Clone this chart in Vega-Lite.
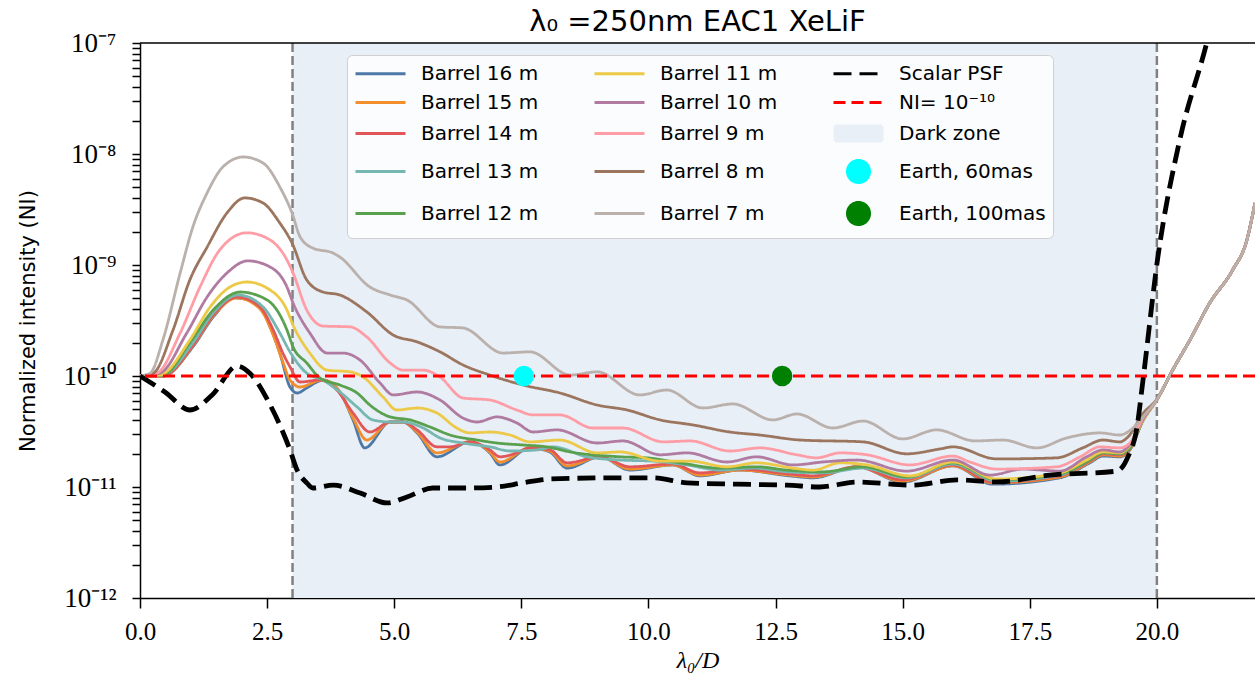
{
  "$schema": "https://vega.github.io/schema/vega-lite/v6.json",
  "width": 1115,
  "height": 555,
  "autosize": {"type": "none"},
  "padding": {"left": 140, "top": 43, "right": 0, "bottom": 81},
  "background": "white",
  "title": {"text": "λ₀ =250nm EAC1 XeLiF", "font": "DejaVu Sans", "fontSize": 29, "fontWeight": "normal", "color": "black", "offset": -8, "anchor": "middle"},
  "config": {
    "view": {"stroke": null},
    "axis": {"domainColor": "black", "domainWidth": 1.5, "tickColor": "black", "tickWidth": 1.5, "labelColor": "black", "titleColor": "black", "grid": false, "labelFont": "Liberation Serif", "labelOverlap": false, "labelFlush": false, "labelBound": false}
  },
  "datasets": {
    "curves": [
      {"s":"Barrel 16 m","x":0,"v":1e-10},{"s":"Barrel 16 m","x":0.45,"v":1.0e-10},{"s":"Barrel 16 m","x":1.04,"v":1.83e-10},{"s":"Barrel 16 m","x":1.44,"v":3.40e-10},{"s":"Barrel 16 m","x":1.87,"v":5.05e-10},{"s":"Barrel 16 m","x":2.30,"v":4.55e-10},{"s":"Barrel 16 m","x":2.56,"v":2.77e-10},{"s":"Barrel 16 m","x":2.75,"v":1.61e-10},{"s":"Barrel 16 m","x":2.95,"v":7.96e-11},{"s":"Barrel 16 m","x":3.09,"v":7.03e-11},{"s":"Barrel 16 m","x":3.28,"v":7.80e-11},{"s":"Barrel 16 m","x":3.48,"v":8.83e-11},{"s":"Barrel 16 m","x":3.60,"v":9.20e-11},{"s":"Barrel 16 m","x":3.93,"v":7.18e-11},{"s":"Barrel 16 m","x":4.19,"v":4.02e-11},{"s":"Barrel 16 m","x":4.42,"v":2.25e-11},{"s":"Barrel 16 m","x":4.92,"v":3.85e-11},{"s":"Barrel 16 m","x":5.17,"v":3.85e-11},{"s":"Barrel 16 m","x":5.45,"v":3.07e-11},{"s":"Barrel 16 m","x":5.84,"v":1.87e-11},{"s":"Barrel 16 m","x":6.49,"v":2.55e-11},{"s":"Barrel 16 m","x":6.88,"v":2.03e-11},{"s":"Barrel 16 m","x":7.08,"v":1.58e-11},{"s":"Barrel 16 m","x":7.67,"v":2.25e-11},{"s":"Barrel 16 m","x":8.06,"v":2.07e-11},{"s":"Barrel 16 m","x":8.40,"v":1.48e-11},{"s":"Barrel 16 m","x":9.05,"v":1.87e-11},{"s":"Barrel 16 m","x":9.64,"v":1.42e-11},{"s":"Barrel 16 m","x":10.48,"v":1.58e-11},{"s":"Barrel 16 m","x":11.01,"v":1.26e-11},{"s":"Barrel 16 m","x":11.80,"v":1.42e-11},{"s":"Barrel 16 m","x":12.78,"v":1.26e-11},{"s":"Barrel 16 m","x":13.24,"v":1.21e-11},{"s":"Barrel 16 m","x":14.10,"v":1.52e-11},{"s":"Barrel 16 m","x":15.00,"v":1.11e-11},{"s":"Barrel 16 m","x":15.99,"v":1.55e-11},{"s":"Barrel 16 m","x":16.77,"v":1.06e-11},{"s":"Barrel 16 m","x":18.09,"v":1.21e-11},{"s":"Barrel 16 m","x":18.68,"v":1.65e-11},{"s":"Barrel 16 m","x":18.94,"v":1.90e-11},{"s":"Barrel 16 m","x":19.27,"v":1.87e-11},{"s":"Barrel 16 m","x":19.47,"v":2.16e-11},{"s":"Barrel 16 m","x":19.72,"v":3.93e-11},{"s":"Barrel 16 m","x":20.02,"v":6.34e-11},{"s":"Barrel 16 m","x":20.31,"v":1.13e-10},{"s":"Barrel 16 m","x":20.65,"v":2.11e-10},{"s":"Barrel 16 m","x":21.04,"v":4.55e-10},{"s":"Barrel 16 m","x":21.49,"v":9.01e-10},{"s":"Barrel 16 m","x":21.77,"v":1.68e-9},{"s":"Barrel 16 m","x":21.93,"v":3.62e-9},

      {"s":"Barrel 15 m","x":0,"v":1e-10},{"s":"Barrel 15 m","x":0.45,"v":1.0e-10},{"s":"Barrel 15 m","x":1.04,"v":1.87e-10},{"s":"Barrel 15 m","x":1.44,"v":3.48e-10},{"s":"Barrel 15 m","x":1.91,"v":5.05e-10},{"s":"Barrel 15 m","x":2.36,"v":4.02e-10},{"s":"Barrel 15 m","x":2.62,"v":2.34e-10},{"s":"Barrel 15 m","x":2.81,"v":1.34e-10},{"s":"Barrel 15 m","x":2.95,"v":9.20e-11},{"s":"Barrel 15 m","x":3.15,"v":7.96e-11},{"s":"Barrel 15 m","x":3.48,"v":9.01e-11},{"s":"Barrel 15 m","x":3.60,"v":9.20e-11},{"s":"Barrel 15 m","x":3.93,"v":7.18e-11},{"s":"Barrel 15 m","x":4.19,"v":4.19e-11},{"s":"Barrel 15 m","x":4.46,"v":2.65e-11},{"s":"Barrel 15 m","x":4.92,"v":3.85e-11},{"s":"Barrel 15 m","x":5.17,"v":3.85e-11},{"s":"Barrel 15 m","x":5.45,"v":3.13e-11},{"s":"Barrel 15 m","x":5.84,"v":2.03e-11},{"s":"Barrel 15 m","x":6.49,"v":2.55e-11},{"s":"Barrel 15 m","x":6.88,"v":2.07e-11},{"s":"Barrel 15 m","x":7.08,"v":1.68e-11},{"s":"Barrel 15 m","x":7.67,"v":2.25e-11},{"s":"Barrel 15 m","x":8.06,"v":2.11e-11},{"s":"Barrel 15 m","x":8.40,"v":1.55e-11},{"s":"Barrel 15 m","x":9.05,"v":1.87e-11},{"s":"Barrel 15 m","x":9.64,"v":1.45e-11},{"s":"Barrel 15 m","x":10.48,"v":1.58e-11},{"s":"Barrel 15 m","x":11.01,"v":1.28e-11},{"s":"Barrel 15 m","x":11.80,"v":1.42e-11},{"s":"Barrel 15 m","x":12.78,"v":1.28e-11},{"s":"Barrel 15 m","x":13.24,"v":1.23e-11},{"s":"Barrel 15 m","x":14.10,"v":1.52e-11},{"s":"Barrel 15 m","x":15.00,"v":1.13e-11},{"s":"Barrel 15 m","x":15.99,"v":1.55e-11},{"s":"Barrel 15 m","x":16.77,"v":1.09e-11},{"s":"Barrel 15 m","x":18.09,"v":1.23e-11},{"s":"Barrel 15 m","x":18.68,"v":1.68e-11},{"s":"Barrel 15 m","x":18.94,"v":1.95e-11},{"s":"Barrel 15 m","x":19.27,"v":1.90e-11},{"s":"Barrel 15 m","x":19.47,"v":2.20e-11},{"s":"Barrel 15 m","x":19.72,"v":3.93e-11},{"s":"Barrel 15 m","x":20.02,"v":6.34e-11},{"s":"Barrel 15 m","x":20.31,"v":1.13e-10},{"s":"Barrel 15 m","x":20.65,"v":2.11e-10},{"s":"Barrel 15 m","x":21.04,"v":4.55e-10},{"s":"Barrel 15 m","x":21.49,"v":9.01e-10},{"s":"Barrel 15 m","x":21.77,"v":1.68e-9},{"s":"Barrel 15 m","x":21.93,"v":3.62e-9},

      {"s":"Barrel 14 m","x":0,"v":1e-10},{"s":"Barrel 14 m","x":0.45,"v":1.0e-10},{"s":"Barrel 14 m","x":1.04,"v":1.90e-10},{"s":"Barrel 14 m","x":1.44,"v":3.55e-10},{"s":"Barrel 14 m","x":1.91,"v":5.15e-10},{"s":"Barrel 14 m","x":2.36,"v":4.19e-10},{"s":"Barrel 14 m","x":2.62,"v":2.60e-10},{"s":"Barrel 14 m","x":2.81,"v":1.61e-10},{"s":"Barrel 14 m","x":2.95,"v":1.21e-10},{"s":"Barrel 14 m","x":3.15,"v":8.83e-11},{"s":"Barrel 14 m","x":3.54,"v":9.20e-11},{"s":"Barrel 14 m","x":3.87,"v":7.48e-11},{"s":"Barrel 14 m","x":4.19,"v":4.64e-11},{"s":"Barrel 14 m","x":4.52,"v":3.13e-11},{"s":"Barrel 14 m","x":4.92,"v":3.85e-11},{"s":"Barrel 14 m","x":5.17,"v":3.85e-11},{"s":"Barrel 14 m","x":5.45,"v":3.27e-11},{"s":"Barrel 14 m","x":5.84,"v":2.30e-11},{"s":"Barrel 14 m","x":6.10,"v":2.30e-11},{"s":"Barrel 14 m","x":6.49,"v":2.55e-11},{"s":"Barrel 14 m","x":6.88,"v":2.16e-11},{"s":"Barrel 14 m","x":7.08,"v":1.87e-11},{"s":"Barrel 14 m","x":7.41,"v":2.03e-11},{"s":"Barrel 14 m","x":7.67,"v":2.25e-11},{"s":"Barrel 14 m","x":8.06,"v":2.16e-11},{"s":"Barrel 14 m","x":8.40,"v":1.65e-11},{"s":"Barrel 14 m","x":9.05,"v":1.87e-11},{"s":"Barrel 14 m","x":9.64,"v":1.52e-11},{"s":"Barrel 14 m","x":10.48,"v":1.61e-11},{"s":"Barrel 14 m","x":11.01,"v":1.34e-11},{"s":"Barrel 14 m","x":11.80,"v":1.45e-11},{"s":"Barrel 14 m","x":12.78,"v":1.31e-11},{"s":"Barrel 14 m","x":13.24,"v":1.26e-11},{"s":"Barrel 14 m","x":14.10,"v":1.52e-11},{"s":"Barrel 14 m","x":15.00,"v":1.16e-11},{"s":"Barrel 14 m","x":15.99,"v":1.58e-11},{"s":"Barrel 14 m","x":16.77,"v":1.11e-11},{"s":"Barrel 14 m","x":18.09,"v":1.26e-11},{"s":"Barrel 14 m","x":18.68,"v":1.71e-11},{"s":"Barrel 14 m","x":18.94,"v":1.99e-11},{"s":"Barrel 14 m","x":19.27,"v":1.95e-11},{"s":"Barrel 14 m","x":19.47,"v":2.20e-11},{"s":"Barrel 14 m","x":19.72,"v":3.93e-11},{"s":"Barrel 14 m","x":20.02,"v":6.34e-11},{"s":"Barrel 14 m","x":20.31,"v":1.13e-10},{"s":"Barrel 14 m","x":20.65,"v":2.11e-10},{"s":"Barrel 14 m","x":21.04,"v":4.55e-10},{"s":"Barrel 14 m","x":21.49,"v":9.01e-10},{"s":"Barrel 14 m","x":21.77,"v":1.68e-9},{"s":"Barrel 14 m","x":21.93,"v":3.62e-9},

      {"s":"Barrel 13 m","x":0,"v":1e-10},{"s":"Barrel 13 m","x":0.45,"v":1.02e-10},{"s":"Barrel 13 m","x":1.04,"v":1.99e-10},{"s":"Barrel 13 m","x":1.44,"v":3.70e-10},{"s":"Barrel 13 m","x":1.93,"v":5.37e-10},{"s":"Barrel 13 m","x":2.42,"v":4.19e-10},{"s":"Barrel 13 m","x":2.75,"v":2.44e-10},{"s":"Barrel 13 m","x":2.95,"v":1.65e-10},{"s":"Barrel 13 m","x":3.28,"v":1.06e-10},{"s":"Barrel 13 m","x":3.60,"v":9.20e-11},{"s":"Barrel 13 m","x":3.93,"v":7.18e-11},{"s":"Barrel 13 m","x":4.27,"v":5.26e-11},{"s":"Barrel 13 m","x":4.58,"v":4.02e-11},{"s":"Barrel 13 m","x":4.92,"v":3.85e-11},{"s":"Barrel 13 m","x":5.17,"v":3.85e-11},{"s":"Barrel 13 m","x":5.57,"v":3.40e-11},{"s":"Barrel 13 m","x":5.90,"v":2.77e-11},{"s":"Barrel 13 m","x":6.35,"v":2.49e-11},{"s":"Barrel 13 m","x":6.88,"v":2.30e-11},{"s":"Barrel 13 m","x":7.28,"v":2.11e-11},{"s":"Barrel 13 m","x":7.81,"v":2.16e-11},{"s":"Barrel 13 m","x":8.12,"v":2.30e-11},{"s":"Barrel 13 m","x":8.79,"v":1.87e-11},{"s":"Barrel 13 m","x":9.44,"v":1.75e-11},{"s":"Barrel 13 m","x":10.09,"v":1.71e-11},{"s":"Barrel 13 m","x":10.76,"v":1.58e-11},{"s":"Barrel 13 m","x":11.41,"v":1.42e-11},{"s":"Barrel 13 m","x":12.06,"v":1.48e-11},{"s":"Barrel 13 m","x":12.72,"v":1.37e-11},{"s":"Barrel 13 m","x":13.43,"v":1.34e-11},{"s":"Barrel 13 m","x":14.22,"v":1.48e-11},{"s":"Barrel 13 m","x":15.08,"v":1.21e-11},{"s":"Barrel 13 m","x":15.99,"v":1.61e-11},{"s":"Barrel 13 m","x":16.85,"v":1.13e-11},{"s":"Barrel 13 m","x":18.09,"v":1.28e-11},{"s":"Barrel 13 m","x":18.68,"v":1.75e-11},{"s":"Barrel 13 m","x":18.94,"v":2.03e-11},{"s":"Barrel 13 m","x":19.27,"v":1.99e-11},{"s":"Barrel 13 m","x":19.47,"v":2.25e-11},{"s":"Barrel 13 m","x":19.72,"v":3.93e-11},{"s":"Barrel 13 m","x":20.02,"v":6.34e-11},{"s":"Barrel 13 m","x":20.31,"v":1.13e-10},{"s":"Barrel 13 m","x":20.65,"v":2.11e-10},{"s":"Barrel 13 m","x":21.04,"v":4.55e-10},{"s":"Barrel 13 m","x":21.49,"v":9.01e-10},{"s":"Barrel 13 m","x":21.77,"v":1.68e-9},{"s":"Barrel 13 m","x":21.93,"v":3.62e-9},

      {"s":"Barrel 12 m","x":0,"v":1e-10},{"s":"Barrel 12 m","x":0.45,"v":1.02e-10},{"s":"Barrel 12 m","x":0.98,"v":1.99e-10},{"s":"Barrel 12 m","x":1.44,"v":3.93e-10},{"s":"Barrel 12 m","x":1.97,"v":5.71e-10},{"s":"Barrel 12 m","x":2.50,"v":4.84e-10},{"s":"Barrel 12 m","x":2.89,"v":2.60e-10},{"s":"Barrel 12 m","x":3.01,"v":1.83e-10},{"s":"Barrel 12 m","x":3.28,"v":1.31e-10},{"s":"Barrel 12 m","x":3.54,"v":9.59e-11},{"s":"Barrel 12 m","x":3.93,"v":8.30e-11},{"s":"Barrel 12 m","x":4.27,"v":7.03e-11},{"s":"Barrel 12 m","x":4.52,"v":5.48e-11},{"s":"Barrel 12 m","x":4.92,"v":4.28e-11},{"s":"Barrel 12 m","x":5.31,"v":4.02e-11},{"s":"Barrel 12 m","x":5.70,"v":3.48e-11},{"s":"Barrel 12 m","x":6.10,"v":2.94e-11},{"s":"Barrel 12 m","x":6.63,"v":2.65e-11},{"s":"Barrel 12 m","x":7.02,"v":2.49e-11},{"s":"Barrel 12 m","x":7.53,"v":2.39e-11},{"s":"Barrel 12 m","x":8.00,"v":2.30e-11},{"s":"Barrel 12 m","x":8.46,"v":2.07e-11},{"s":"Barrel 12 m","x":9.44,"v":1.87e-11},{"s":"Barrel 12 m","x":9.97,"v":1.83e-11},{"s":"Barrel 12 m","x":10.62,"v":1.65e-11},{"s":"Barrel 12 m","x":11.41,"v":1.48e-11},{"s":"Barrel 12 m","x":12.13,"v":1.52e-11},{"s":"Barrel 12 m","x":12.72,"v":1.42e-11},{"s":"Barrel 12 m","x":13.43,"v":1.37e-11},{"s":"Barrel 12 m","x":14.22,"v":1.52e-11},{"s":"Barrel 12 m","x":15.08,"v":1.23e-11},{"s":"Barrel 12 m","x":15.99,"v":1.65e-11},{"s":"Barrel 12 m","x":16.85,"v":1.16e-11},{"s":"Barrel 12 m","x":18.09,"v":1.31e-11},{"s":"Barrel 12 m","x":18.68,"v":1.75e-11},{"s":"Barrel 12 m","x":18.94,"v":2.03e-11},{"s":"Barrel 12 m","x":19.27,"v":1.99e-11},{"s":"Barrel 12 m","x":19.47,"v":2.25e-11},{"s":"Barrel 12 m","x":19.72,"v":3.93e-11},{"s":"Barrel 12 m","x":20.02,"v":6.34e-11},{"s":"Barrel 12 m","x":20.31,"v":1.13e-10},{"s":"Barrel 12 m","x":20.65,"v":2.11e-10},{"s":"Barrel 12 m","x":21.04,"v":4.55e-10},{"s":"Barrel 12 m","x":21.49,"v":9.01e-10},{"s":"Barrel 12 m","x":21.77,"v":1.68e-9},{"s":"Barrel 12 m","x":21.93,"v":3.62e-9},

      {"s":"Barrel 11 m","x":0,"v":1e-10},{"s":"Barrel 11 m","x":0.39,"v":1.02e-10},{"s":"Barrel 11 m","x":0.98,"v":2.11e-10},{"s":"Barrel 11 m","x":1.38,"v":4.19e-10},{"s":"Barrel 11 m","x":1.77,"v":6.34e-10},{"s":"Barrel 11 m","x":2.10,"v":7.03e-10},{"s":"Barrel 11 m","x":2.56,"v":5.95e-10},{"s":"Barrel 11 m","x":2.89,"v":3.93e-10},{"s":"Barrel 11 m","x":3.01,"v":2.88e-10},{"s":"Barrel 11 m","x":3.34,"v":1.61e-10},{"s":"Barrel 11 m","x":3.68,"v":1.13e-10},{"s":"Barrel 11 m","x":4.13,"v":1.09e-10},{"s":"Barrel 11 m","x":4.39,"v":9.79e-11},{"s":"Barrel 11 m","x":4.78,"v":6.47e-11},{"s":"Barrel 11 m","x":5.05,"v":4.94e-11},{"s":"Barrel 11 m","x":5.45,"v":5.15e-11},{"s":"Barrel 11 m","x":5.84,"v":4.64e-11},{"s":"Barrel 11 m","x":6.23,"v":3.40e-11},{"s":"Barrel 11 m","x":6.49,"v":3.07e-11},{"s":"Barrel 11 m","x":6.88,"v":3.13e-11},{"s":"Barrel 11 m","x":7.28,"v":2.94e-11},{"s":"Barrel 11 m","x":7.67,"v":2.55e-11},{"s":"Barrel 11 m","x":8.26,"v":2.65e-11},{"s":"Barrel 11 m","x":8.99,"v":2.03e-11},{"s":"Barrel 11 m","x":9.44,"v":2.07e-11},{"s":"Barrel 11 m","x":10.23,"v":1.71e-11},{"s":"Barrel 11 m","x":10.82,"v":1.71e-11},{"s":"Barrel 11 m","x":11.54,"v":1.52e-11},{"s":"Barrel 11 m","x":12.13,"v":1.65e-11},{"s":"Barrel 11 m","x":12.84,"v":1.48e-11},{"s":"Barrel 11 m","x":13.24,"v":1.42e-11},{"s":"Barrel 11 m","x":13.77,"v":1.65e-11},{"s":"Barrel 11 m","x":14.30,"v":1.58e-11},{"s":"Barrel 11 m","x":15.14,"v":1.26e-11},{"s":"Barrel 11 m","x":15.99,"v":1.68e-11},{"s":"Barrel 11 m","x":16.85,"v":1.18e-11},{"s":"Barrel 11 m","x":18.09,"v":1.34e-11},{"s":"Barrel 11 m","x":18.62,"v":1.75e-11},{"s":"Barrel 11 m","x":18.94,"v":2.07e-11},{"s":"Barrel 11 m","x":19.27,"v":2.03e-11},{"s":"Barrel 11 m","x":19.43,"v":2.25e-11},{"s":"Barrel 11 m","x":19.72,"v":3.93e-11},{"s":"Barrel 11 m","x":20.02,"v":6.34e-11},{"s":"Barrel 11 m","x":20.31,"v":1.13e-10},{"s":"Barrel 11 m","x":20.65,"v":2.11e-10},{"s":"Barrel 11 m","x":21.04,"v":4.55e-10},{"s":"Barrel 11 m","x":21.49,"v":9.01e-10},{"s":"Barrel 11 m","x":21.77,"v":1.68e-9},{"s":"Barrel 11 m","x":21.93,"v":3.62e-9},

      {"s":"Barrel 10 m","x":0,"v":1e-10},{"s":"Barrel 10 m","x":0.39,"v":1.06e-10},{"s":"Barrel 10 m","x":0.92,"v":2.44e-10},{"s":"Barrel 10 m","x":1.32,"v":5.15e-10},{"s":"Barrel 10 m","x":1.71,"v":8.47e-10},{"s":"Barrel 10 m","x":2.12,"v":1.09e-9},{"s":"Barrel 10 m","x":2.56,"v":9.59e-10},{"s":"Barrel 10 m","x":2.89,"v":6.34e-10},{"s":"Barrel 10 m","x":3.01,"v":4.55e-10},{"s":"Barrel 10 m","x":3.34,"v":2.44e-10},{"s":"Barrel 10 m","x":3.68,"v":1.61e-10},{"s":"Barrel 10 m","x":3.99,"v":1.61e-10},{"s":"Barrel 10 m","x":4.33,"v":1.39e-10},{"s":"Barrel 10 m","x":4.72,"v":8.65e-11},{"s":"Barrel 10 m","x":4.98,"v":6.75e-11},{"s":"Barrel 10 m","x":5.45,"v":7.18e-11},{"s":"Barrel 10 m","x":5.90,"v":6.08e-11},{"s":"Barrel 10 m","x":6.35,"v":4.19e-11},{"s":"Barrel 10 m","x":6.63,"v":3.85e-11},{"s":"Barrel 10 m","x":7.02,"v":4.28e-11},{"s":"Barrel 10 m","x":7.41,"v":3.78e-11},{"s":"Barrel 10 m","x":7.73,"v":3.13e-11},{"s":"Barrel 10 m","x":8.20,"v":3.27e-11},{"s":"Barrel 10 m","x":8.99,"v":2.49e-11},{"s":"Barrel 10 m","x":9.50,"v":2.60e-11},{"s":"Barrel 10 m","x":10.23,"v":1.95e-11},{"s":"Barrel 10 m","x":10.76,"v":2.03e-11},{"s":"Barrel 10 m","x":11.54,"v":1.68e-11},{"s":"Barrel 10 m","x":12.13,"v":1.87e-11},{"s":"Barrel 10 m","x":12.84,"v":1.58e-11},{"s":"Barrel 10 m","x":13.43,"v":1.68e-11},{"s":"Barrel 10 m","x":14.10,"v":1.75e-11},{"s":"Barrel 10 m","x":15.08,"v":1.39e-11},{"s":"Barrel 10 m","x":15.99,"v":1.75e-11},{"s":"Barrel 10 m","x":16.72,"v":1.28e-11},{"s":"Barrel 10 m","x":17.36,"v":1.45e-11},{"s":"Barrel 10 m","x":18.09,"v":1.39e-11},{"s":"Barrel 10 m","x":18.62,"v":1.87e-11},{"s":"Barrel 10 m","x":18.94,"v":2.16e-11},{"s":"Barrel 10 m","x":19.27,"v":2.07e-11},{"s":"Barrel 10 m","x":19.43,"v":2.30e-11},{"s":"Barrel 10 m","x":19.72,"v":4.02e-11},{"s":"Barrel 10 m","x":20.02,"v":6.34e-11},{"s":"Barrel 10 m","x":20.31,"v":1.13e-10},{"s":"Barrel 10 m","x":20.65,"v":2.11e-10},{"s":"Barrel 10 m","x":21.04,"v":4.55e-10},{"s":"Barrel 10 m","x":21.49,"v":9.01e-10},{"s":"Barrel 10 m","x":21.77,"v":1.68e-9},{"s":"Barrel 10 m","x":21.93,"v":3.62e-9},

      {"s":"Barrel 9 m","x":0,"v":1e-10},{"s":"Barrel 9 m","x":0.33,"v":1.06e-10},{"s":"Barrel 9 m","x":0.79,"v":2.44e-10},{"s":"Barrel 9 m","x":1.18,"v":6.34e-10},{"s":"Barrel 9 m","x":1.57,"v":1.37e-9},{"s":"Barrel 9 m","x":2.10,"v":1.95e-9},{"s":"Barrel 9 m","x":2.56,"v":1.68e-9},{"s":"Barrel 9 m","x":2.89,"v":1.11e-9},{"s":"Barrel 9 m","x":3.01,"v":8.47e-10},{"s":"Barrel 9 m","x":3.28,"v":3.93e-10},{"s":"Barrel 9 m","x":3.60,"v":2.82e-10},{"s":"Barrel 9 m","x":4.13,"v":2.77e-10},{"s":"Barrel 9 m","x":4.46,"v":2.25e-10},{"s":"Barrel 9 m","x":4.92,"v":1.31e-10},{"s":"Barrel 9 m","x":5.17,"v":1.13e-10},{"s":"Barrel 9 m","x":5.57,"v":1.13e-10},{"s":"Barrel 9 m","x":5.90,"v":9.79e-11},{"s":"Barrel 9 m","x":6.35,"v":6.34e-11},{"s":"Barrel 9 m","x":6.88,"v":6.08e-11},{"s":"Barrel 9 m","x":7.41,"v":4.94e-11},{"s":"Barrel 9 m","x":7.73,"v":4.46e-11},{"s":"Barrel 9 m","x":8.26,"v":4.46e-11},{"s":"Barrel 9 m","x":8.91,"v":3.40e-11},{"s":"Barrel 9 m","x":9.50,"v":3.40e-11},{"s":"Barrel 9 m","x":10.29,"v":2.55e-11},{"s":"Barrel 9 m","x":10.82,"v":2.60e-11},{"s":"Barrel 9 m","x":11.60,"v":2.11e-11},{"s":"Barrel 9 m","x":12.19,"v":2.25e-11},{"s":"Barrel 9 m","x":12.92,"v":1.95e-11},{"s":"Barrel 9 m","x":13.31,"v":1.83e-11},{"s":"Barrel 9 m","x":13.77,"v":2.03e-11},{"s":"Barrel 9 m","x":14.30,"v":1.95e-11},{"s":"Barrel 9 m","x":15.14,"v":1.58e-11},{"s":"Barrel 9 m","x":15.99,"v":1.90e-11},{"s":"Barrel 9 m","x":16.32,"v":1.68e-11},{"s":"Barrel 9 m","x":16.85,"v":1.45e-11},{"s":"Barrel 9 m","x":18.03,"v":1.52e-11},{"s":"Barrel 9 m","x":18.49,"v":1.87e-11},{"s":"Barrel 9 m","x":18.88,"v":2.30e-11},{"s":"Barrel 9 m","x":19.27,"v":2.25e-11},{"s":"Barrel 9 m","x":19.47,"v":2.49e-11},{"s":"Barrel 9 m","x":19.72,"v":4.19e-11},{"s":"Barrel 9 m","x":20.02,"v":6.34e-11},{"s":"Barrel 9 m","x":20.31,"v":1.13e-10},{"s":"Barrel 9 m","x":20.65,"v":2.11e-10},{"s":"Barrel 9 m","x":21.04,"v":4.55e-10},{"s":"Barrel 9 m","x":21.49,"v":9.01e-10},{"s":"Barrel 9 m","x":21.77,"v":1.68e-9},{"s":"Barrel 9 m","x":21.93,"v":3.62e-9},

      {"s":"Barrel 8 m","x":0,"v":1e-10},{"s":"Barrel 8 m","x":0.26,"v":1.06e-10},{"s":"Barrel 8 m","x":0.65,"v":2.60e-10},{"s":"Barrel 8 m","x":0.98,"v":7.33e-10},{"s":"Barrel 8 m","x":1.32,"v":1.45e-9},{"s":"Barrel 8 m","x":1.71,"v":2.94e-9},{"s":"Barrel 8 m","x":2.06,"v":4.02e-9},{"s":"Barrel 8 m","x":2.42,"v":3.62e-9},{"s":"Barrel 8 m","x":2.75,"v":2.39e-9},{"s":"Barrel 8 m","x":2.99,"v":1.58e-9},{"s":"Barrel 8 m","x":3.28,"v":7.33e-10},{"s":"Barrel 8 m","x":3.60,"v":5.71e-10},{"s":"Barrel 8 m","x":3.93,"v":5.37e-10},{"s":"Barrel 8 m","x":4.46,"v":3.78e-10},{"s":"Barrel 8 m","x":4.98,"v":2.34e-10},{"s":"Barrel 8 m","x":5.45,"v":2.03e-10},{"s":"Barrel 8 m","x":5.90,"v":1.65e-10},{"s":"Barrel 8 m","x":6.35,"v":1.26e-10},{"s":"Barrel 8 m","x":6.88,"v":1.02e-10},{"s":"Barrel 8 m","x":7.53,"v":8.30e-11},{"s":"Barrel 8 m","x":8.26,"v":7.03e-11},{"s":"Barrel 8 m","x":8.99,"v":5.48e-11},{"s":"Barrel 8 m","x":9.58,"v":4.94e-11},{"s":"Barrel 8 m","x":10.23,"v":4.02e-11},{"s":"Barrel 8 m","x":10.88,"v":3.62e-11},{"s":"Barrel 8 m","x":11.60,"v":3.13e-11},{"s":"Barrel 8 m","x":12.19,"v":2.94e-11},{"s":"Barrel 8 m","x":12.98,"v":2.65e-11},{"s":"Barrel 8 m","x":14.22,"v":2.55e-11},{"s":"Barrel 8 m","x":15.08,"v":1.99e-11},{"s":"Barrel 8 m","x":15.73,"v":2.20e-11},{"s":"Barrel 8 m","x":15.99,"v":2.30e-11},{"s":"Barrel 8 m","x":16.85,"v":1.79e-11},{"s":"Barrel 8 m","x":18.03,"v":1.83e-11},{"s":"Barrel 8 m","x":18.54,"v":2.25e-11},{"s":"Barrel 8 m","x":18.94,"v":2.65e-11},{"s":"Barrel 8 m","x":19.27,"v":2.55e-11},{"s":"Barrel 8 m","x":19.43,"v":2.82e-11},{"s":"Barrel 8 m","x":19.72,"v":4.55e-11},{"s":"Barrel 8 m","x":20.02,"v":6.34e-11},{"s":"Barrel 8 m","x":20.31,"v":1.13e-10},{"s":"Barrel 8 m","x":20.65,"v":2.11e-10},{"s":"Barrel 8 m","x":21.04,"v":4.55e-10},{"s":"Barrel 8 m","x":21.49,"v":9.01e-10},{"s":"Barrel 8 m","x":21.77,"v":1.68e-9},{"s":"Barrel 8 m","x":21.93,"v":3.62e-9},

      {"s":"Barrel 7 m","x":0,"v":1e-10},{"s":"Barrel 7 m","x":0.20,"v":1.06e-10},{"s":"Barrel 7 m","x":0.45,"v":2.11e-10},{"s":"Barrel 7 m","x":0.79,"v":8.47e-10},{"s":"Barrel 7 m","x":1.04,"v":2.20e-9},{"s":"Barrel 7 m","x":1.32,"v":4.46e-9},{"s":"Barrel 7 m","x":1.63,"v":7.64e-9},{"s":"Barrel 7 m","x":2.03,"v":9.40e-9},{"s":"Barrel 7 m","x":2.42,"v":8.30e-9},{"s":"Barrel 7 m","x":2.75,"v":5.05e-9},{"s":"Barrel 7 m","x":2.99,"v":2.94e-9},{"s":"Barrel 7 m","x":3.15,"v":1.79e-9},{"s":"Barrel 7 m","x":3.40,"v":1.42e-9},{"s":"Barrel 7 m","x":3.80,"v":1.28e-9},{"s":"Barrel 7 m","x":3.93,"v":1.18e-9},{"s":"Barrel 7 m","x":4.52,"v":6.34e-10},{"s":"Barrel 7 m","x":4.92,"v":5.37e-10},{"s":"Barrel 7 m","x":5.25,"v":4.84e-10},{"s":"Barrel 7 m","x":5.90,"v":2.77e-10},{"s":"Barrel 7 m","x":6.35,"v":2.71e-10},{"s":"Barrel 7 m","x":7.14,"v":1.61e-10},{"s":"Barrel 7 m","x":7.67,"v":1.65e-10},{"s":"Barrel 7 m","x":8.46,"v":1.02e-10},{"s":"Barrel 7 m","x":8.99,"v":1.09e-10},{"s":"Barrel 7 m","x":9.83,"v":6.75e-11},{"s":"Barrel 7 m","x":10.36,"v":7.48e-11},{"s":"Barrel 7 m","x":11.07,"v":5.15e-11},{"s":"Barrel 7 m","x":11.66,"v":5.60e-11},{"s":"Barrel 7 m","x":12.45,"v":4.02e-11},{"s":"Barrel 7 m","x":12.92,"v":4.55e-11},{"s":"Barrel 7 m","x":13.63,"v":3.40e-11},{"s":"Barrel 7 m","x":14.22,"v":3.93e-11},{"s":"Barrel 7 m","x":15.00,"v":2.71e-11},{"s":"Barrel 7 m","x":15.67,"v":3.27e-11},{"s":"Barrel 7 m","x":16.42,"v":2.60e-11},{"s":"Barrel 7 m","x":16.97,"v":2.65e-11},{"s":"Barrel 7 m","x":17.64,"v":2.25e-11},{"s":"Barrel 7 m","x":18.23,"v":2.77e-11},{"s":"Barrel 7 m","x":18.88,"v":3.07e-11},{"s":"Barrel 7 m","x":19.27,"v":2.94e-11},{"s":"Barrel 7 m","x":19.53,"v":3.40e-11},{"s":"Barrel 7 m","x":19.76,"v":4.46e-11},{"s":"Barrel 7 m","x":20.02,"v":6.34e-11},{"s":"Barrel 7 m","x":20.31,"v":1.13e-10},{"s":"Barrel 7 m","x":20.65,"v":2.11e-10},{"s":"Barrel 7 m","x":21.04,"v":4.55e-10},{"s":"Barrel 7 m","x":21.49,"v":9.01e-10},{"s":"Barrel 7 m","x":21.77,"v":1.68e-9},{"s":"Barrel 7 m","x":21.93,"v":3.62e-9},

      {"s":"Scalar PSF","x":0,"v":1e-10},{"s":"Scalar PSF","x":0.49,"v":7.18e-11},{"s":"Scalar PSF","x":0.98,"v":4.94e-11},{"s":"Scalar PSF","x":1.42,"v":6.75e-11},{"s":"Scalar PSF","x":1.91,"v":1.23e-10},{"s":"Scalar PSF","x":2.16,"v":1.06e-10},{"s":"Scalar PSF","x":2.56,"v":5.48e-11},{"s":"Scalar PSF","x":2.95,"v":2.16e-11},{"s":"Scalar PSF","x":3.09,"v":1.42e-11},{"s":"Scalar PSF","x":3.28,"v":1.09e-11},{"s":"Scalar PSF","x":3.40,"v":9.79e-12},{"s":"Scalar PSF","x":3.80,"v":1.04e-11},{"s":"Scalar PSF","x":4.33,"v":8.83e-12},{"s":"Scalar PSF","x":4.86,"v":7.18e-12},{"s":"Scalar PSF","x":5.25,"v":8.13e-12},{"s":"Scalar PSF","x":5.76,"v":9.79e-12},{"s":"Scalar PSF","x":6.43,"v":9.79e-12},{"s":"Scalar PSF","x":7.02,"v":1.0e-11},{"s":"Scalar PSF","x":7.53,"v":1.09e-11},{"s":"Scalar PSF","x":8.06,"v":1.18e-11},{"s":"Scalar PSF","x":9.44,"v":1.21e-11},{"s":"Scalar PSF","x":10.09,"v":1.21e-11},{"s":"Scalar PSF","x":10.76,"v":1.09e-11},{"s":"Scalar PSF","x":11.74,"v":1.06e-11},{"s":"Scalar PSF","x":12.72,"v":1.04e-11},{"s":"Scalar PSF","x":13.37,"v":1.0e-11},{"s":"Scalar PSF","x":14.10,"v":1.11e-11},{"s":"Scalar PSF","x":15.20,"v":1.04e-11},{"s":"Scalar PSF","x":16.07,"v":1.16e-11},{"s":"Scalar PSF","x":16.85,"v":1.11e-11},{"s":"Scalar PSF","x":17.90,"v":1.28e-11},{"s":"Scalar PSF","x":19.21,"v":1.39e-11},{"s":"Scalar PSF","x":19.43,"v":1.87e-11},{"s":"Scalar PSF","x":19.61,"v":3.48e-11},{"s":"Scalar PSF","x":19.72,"v":8.65e-11},{"s":"Scalar PSF","x":20.02,"v":1.18e-9},{"s":"Scalar PSF","x":20.45,"v":1.34e-8},{"s":"Scalar PSF","x":20.98,"v":1e-7},{"s":"Scalar PSF","x":21.14,"v":1.98e-7}
    ],
    "earth": [
      {"s": "Earth, 60mas", "x": 7.55, "v": 1e-10},
      {"s": "Earth, 100mas", "x": 12.63, "v": 1e-10}
    ],
    "zone": [{"edge": 3}, {"edge": 20}],
    "zonespan": [{"lo": 3, "hi": 20, "lab": "Dark zone"}],
    "levels": [{"lev": 1e-10, "lab": "NI= 10⁻¹⁰"}],
    "top": [{"lev": 1e-7}]
  },
  "layer": [
    {
      "data": {"name": "zonespan"},
      "mark": {"type": "rect"},
      "encoding": {
        "x": {"field": "lo", "type": "quantitative", "scale": {"domain": [0, 21.93], "nice": false, "zero": false}},
        "x2": {"field": "hi"},
        "color": {"field": "lab", "type": "nominal",
          "scale": {
            "domain": ["Barrel 16 m", "Barrel 15 m", "Barrel 14 m", "Barrel 13 m", "Barrel 12 m", "Barrel 11 m", "Barrel 10 m", "Barrel 9 m", "Barrel 8 m", "Barrel 7 m", "Scalar PSF", "NI= 10⁻¹⁰", "Dark zone", "Earth, 60mas", "Earth, 100mas"],
            "range": ["#4e79a7", "#f28e2b", "#e15759", "#76b7b2", "#59a14f", "#edc948", "#b07aa1", "#ff9da7", "#9c755f", "#bab0ac", "#000000", "#ff0000", "#e8eff6", "#00ffff", "#008000"]
          },
          "legend": {
            "orient": "none", "legendX": 207, "legendY": 12, "columns": 3, "title": null,
            "symbolType": "stroke", "symbolSize": 400, "symbolStrokeWidth": 3, "symbolOpacity": 1,
            "labelFont": "DejaVu Sans", "labelFontSize": 20, "labelColor": "black", "labelOffset": 44, "labelLimit": 300,
            "columnPadding": 49, "rowPadding": 7, "padding": 7,
            "fillColor": "#fafcfd", "strokeColor": "#d0d0d0", "cornerRadius": 5
          }
        }
      }
    },
    {
      "data": {"name": "zone"},
      "mark": {"type": "rule", "color": "#808080", "strokeWidth": 2.5, "strokeDash": [9, 4]},
      "encoding": {
        "x": {"field": "edge", "type": "quantitative", "scale": {"domain": [0, 21.93], "nice": false, "zero": false}}
      }
    },
    {
      "data": {"name": "curves"},
      "transform": [{"filter": "datum.s !== 'Scalar PSF'"}],
      "mark": {"type": "line", "strokeWidth": 2.8, "interpolate": "monotone", "clip": true},
      "encoding": {
        "x": {"field": "x", "type": "quantitative", "scale": {"domain": [0, 21.93], "nice": false, "zero": false},
          "axis": {"values": [0, 2.5, 5, 7.5, 10, 12.5, 15, 17.5, 20], "format": ".1f", "title": "λ₀/D", "tickSize": 10, "labelPadding": 11, "labelFontSize": 25, "titleFont": "Liberation Serif", "titleFontStyle": "italic", "titleFontWeight": "normal", "titleFontSize": 24, "titlePadding": 4}},
        "y": {"field": "v", "type": "quantitative", "scale": {"type": "log", "domain": [1e-12, 1e-7], "nice": false},
          "axis": {
            "values": [1e-12, 2e-12, 3e-12, 4e-12, 5e-12, 6e-12, 7e-12, 8e-12, 9e-12, 1e-11, 2e-11, 3e-11, 4e-11, 5e-11, 6e-11, 7e-11, 8e-11, 9e-11, 1e-10, 2e-10, 3e-10, 4e-10, 5e-10, 6e-10, 7e-10, 8e-10, 9e-10, 1e-9, 2e-9, 3e-9, 4e-9, 5e-9, 6e-9, 7e-9, 8e-9, 9e-9, 1e-8, 2e-8, 3e-8, 4e-8, 5e-8, 6e-8, 7e-8, 8e-8, 9e-8, 1e-7],
            "labelExpr": "abs(datum.value/1e-12-1)<0.01 ? '10⁻¹²' : abs(datum.value/1e-11-1)<0.01 ? '10⁻¹¹' : abs(datum.value/1e-10-1)<0.01 ? '10⁻¹⁰' : abs(datum.value/1e-9-1)<0.01 ? '10⁻⁹' : abs(datum.value/1e-8-1)<0.01 ? '10⁻⁸' : abs(datum.value/1e-7-1)<0.01 ? '10⁻⁷' : ''",
            "tickSize": 8,
            "labelPadding": 16, "labelFontSize": 27,
            "title": "Normalized intensity (NI)", "titleFont": "DejaVu Sans", "titleFontSize": 21, "titleFontWeight": "normal", "titlePadding": 24
          }},
        "color": {"field": "s", "type": "nominal"},
        "strokeDash": {"field": "s", "type": "nominal",
          "scale": {
            "domain": ["Barrel 16 m", "Barrel 15 m", "Barrel 14 m", "Barrel 13 m", "Barrel 12 m", "Barrel 11 m", "Barrel 10 m", "Barrel 9 m", "Barrel 8 m", "Barrel 7 m", "Scalar PSF", "NI= 10⁻¹⁰", "Dark zone", "Earth, 60mas", "Earth, 100mas"],
            "range": [[1, 0], [1, 0], [1, 0], [1, 0], [1, 0], [1, 0], [1, 0], [1, 0], [1, 0], [1, 0], [18, 8], [12, 6], [1, 0], [1, 0], [1, 0]]
          }}
      }
    },
    {
      "data": {"name": "curves"},
      "transform": [{"filter": "datum.s === 'Scalar PSF'"}],
      "mark": {"type": "line", "strokeWidth": 4.8, "interpolate": "monotone", "clip": true},
      "encoding": {
        "x": {"field": "x", "type": "quantitative", "scale": {"domain": [0, 21.93], "nice": false, "zero": false}},
        "y": {"field": "v", "type": "quantitative", "scale": {"type": "log", "domain": [1e-12, 1e-7], "nice": false}},
        "color": {"field": "s", "type": "nominal"},
        "strokeDash": {"field": "s", "type": "nominal"}
      }
    },
    {
      "data": {"name": "levels"},
      "mark": {"type": "rule", "strokeWidth": 3},
      "encoding": {
        "y": {"field": "lev", "type": "quantitative", "scale": {"type": "log", "domain": [1e-12, 1e-7], "nice": false}},
        "color": {"field": "lab", "type": "nominal"},
        "strokeDash": {"field": "lab", "type": "nominal"}
      }
    },
    {
      "data": {"name": "top"},
      "mark": {"type": "rule", "color": "black", "strokeWidth": 1.5},
      "encoding": {
        "y": {"field": "lev", "type": "quantitative", "scale": {"type": "log", "domain": [1e-12, 1e-7], "nice": false}}
      }
    },
    {
      "data": {"name": "earth"},
      "mark": {"type": "point", "filled": true, "opacity": 1, "size": 420},
      "encoding": {
        "x": {"field": "x", "type": "quantitative", "scale": {"domain": [0, 21.93], "nice": false, "zero": false}},
        "y": {"field": "v", "type": "quantitative", "scale": {"type": "log", "domain": [1e-12, 1e-7], "nice": false}},
        "color": {"field": "s", "type": "nominal"}
      }
    },
    {
      "data": {"name": "earth"},
      "mark": {"type": "point", "filled": true, "opacity": 0},
      "encoding": {
        "x": {"field": "x", "type": "quantitative", "scale": {"domain": [0, 21.93], "nice": false, "zero": false}},
        "y": {"field": "v", "type": "quantitative", "scale": {"type": "log", "domain": [1e-12, 1e-7], "nice": false}},
        "shape": {"field": "s", "type": "nominal",
          "scale": {
            "domain": ["Barrel 16 m", "Barrel 15 m", "Barrel 14 m", "Barrel 13 m", "Barrel 12 m", "Barrel 11 m", "Barrel 10 m", "Barrel 9 m", "Barrel 8 m", "Barrel 7 m", "Scalar PSF", "NI= 10⁻¹⁰", "Dark zone", "Earth, 60mas", "Earth, 100mas"],
            "range": ["M-1,0H4", "M-1,0H4", "M-1,0H4", "M-1,0H4", "M-1,0H4", "M-1,0H4", "M-1,0H4", "M-1,0H4", "M-1,0H4", "M-1,0H4", "M-1,0H4", "M-1,0H4", "M-0.85,-0.75H3.85V0.75H-0.85Z", "M2.6,0A1.1,1.1,0,1,1,0.4,0A1.1,1.1,0,1,1,2.6,0Z", "M2.6,0A1.1,1.1,0,1,1,0.4,0A1.1,1.1,0,1,1,2.6,0Z"]
          },
          "legend": {
            "orient": "none", "legendX": 207, "legendY": 12, "columns": 3, "title": null,
            "symbolSize": 400, "symbolStrokeWidth": 3, "symbolOpacity": 1,
            "labelFont": "DejaVu Sans", "labelFontSize": 20, "labelColor": "black", "labelOffset": 44, "labelLimit": 300,
            "columnPadding": 49, "rowPadding": 7, "padding": 7,
            "fillColor": "#fafcfd", "strokeColor": "#d0d0d0", "cornerRadius": 5
          }}
      }
    }
  ]
}
